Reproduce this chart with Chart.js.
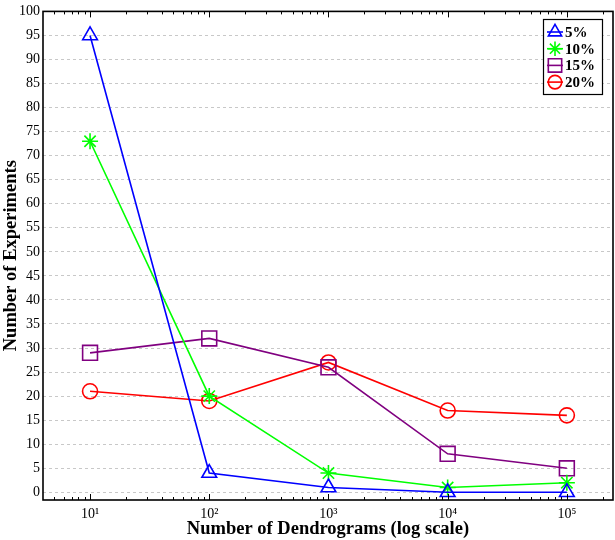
<!DOCTYPE html>
<html>
<head>
<meta charset="utf-8">
<script src="https://cdn.jsdelivr.net/npm/chart.js@4/dist/chart.umd.min.js"></script>
<style>
    html, body { margin: 0; padding: 0; background: #fff; overflow: hidden; }
    canvas { display: block; }
</style>
</head>
<body>
<canvas id="chart" width="615" height="540"></canvas>
<script>
// number of dendrograms (x) and experiment counts per threshold
const DENDROGRAMS = [10, 100, 1000, 10000, 100000];
const SERIES_5 = [95, 4, 1, 0, 0];
const SERIES_10 = [73, 20, 4, 1, 2];
const SERIES_15 = [29, 32, 26, 8, 5];
const SERIES_20 = [21, 19, 27, 17, 16];
const LABELS = ["5%", "10%", "15%", "20%"];
const Y_TICKS = [0, 5, 10, 15, 20, 25, 30, 35, 40, 45, 50, 55, 60, 65, 70, 75, 80, 85, 90, 95, 100];
const X_TICKS = [10, 100, 1000, 10000, 100000];
const SUP = {"1": "\u00b9", "2": "\u00b2", "3": "\u00b3", "4": "\u2074", "5": "\u2075"};

const FONT = "'Liberation Serif', 'DejaVu Serif', serif";
Chart.defaults.font.family = FONT;
Chart.defaults.color = "#000";

const STYLES = [
    {color: "#0000ff", point: "triangle", radius: 8.5},
    {color: "#00ff00", point: "star", radius: 8},
    {color: "#800080", point: "rect", radius: 10.5},
    {color: "#ff0000", point: "circle", radius: 7.5},
];

function toPoints(values) {
    return values.map((v, i) => ({x: DENDROGRAMS[i], y: v}));
}

let datasets = [SERIES_5, SERIES_10, SERIES_15, SERIES_20].map(function (vals, i) {
    let s = STYLES[i];
    return {
        label: LABELS[i],
        data: toPoints(vals),
        borderColor: s.color,
        backgroundColor: "rgba(0,0,0,0)",
        borderWidth: 1.6,
        pointStyle: s.point,
        pointRadius: s.radius,
        pointBorderWidth: 1.6,
        pointBorderColor: s.color,
        pointBackgroundColor: "rgba(0,0,0,0)",
        tension: 0,
        clip: false,
    };
});

function tick(ctx, a, px, len, top) {
    ctx.beginPath();
    ctx.moveTo(px, a.bottom);
    ctx.lineTo(px, a.bottom - len);
    if (top) {
        ctx.moveTo(px, a.top);
        ctx.lineTo(px, a.top + len);
    }
    ctx.stroke();
}

// frame, minor ticks and inner legend, pgfplots style
const framePlugin = {
    id: "frame",
    afterDatasetsDraw(chart) {
        let ctx = chart.ctx;
        let a = chart.chartArea;
        let xs = chart.scales.x;
        ctx.save();
        ctx.strokeStyle = "#000";
        ctx.lineWidth = 1;
        for (let d = 0; d <= 5; d++) {
            for (let m = 1; m <= 9; m++) {
                let v = m * Math.pow(10, d);
                if (v < xs.min || v > xs.max) continue;
                let px = Math.round(xs.getPixelForValue(v)) + 0.5;
                tick(ctx, a, px, m === 1 ? 6 : 3, true);
            }
        }
        ctx.lineWidth = 1.6;
        ctx.strokeRect(a.left, a.top, a.right - a.left, a.bottom - a.top);

        // legend box
        let bx = 543, by = 19, bw = 59, bh = 75;
        ctx.fillStyle = "#fff";
        ctx.fillRect(bx, by, bw, bh);
        ctx.strokeStyle = "#000";
        ctx.lineWidth = 1.2;
        ctx.strokeRect(bx + 0.5, by + 0.5, bw, bh);
        ctx.textBaseline = "middle";
        ctx.textAlign = "left";
        chart.data.datasets.forEach(function (ds, i) {
            let cy = by + 13 + i * 16.7;
            let cx = 555;
            ctx.strokeStyle = ds.borderColor;
            ctx.fillStyle = "rgba(0,0,0,0)";
            ctx.lineWidth = 1.6;
            ctx.beginPath();
            ctx.moveTo(cx - 8, cy);
            ctx.lineTo(cx + 8, cy);
            ctx.stroke();
            Chart.helpers.drawPoint(ctx, {
                pointStyle: ds.pointStyle,
                radius: ds.pointRadius * 0.9,
                borderWidth: 1.6,
                rotation: 0,
            }, cx, cy);
            ctx.fillStyle = "#000";
            ctx.font = "bold 15px " + FONT;
            ctx.fillText(ds.label, 565, cy + 1);
        });
        ctx.restore();
    }
};

new Chart(document.getElementById("chart"), {
    type: "line",
    data: {datasets: datasets},
    options: {
        animation: false,
        responsive: false,
        layout: {autoPadding: false, padding: {top: 9, right: 2, left: 0, bottom: 0}},
        plugins: {
            legend: {display: false},
            tooltip: {enabled: false},
        },
        scales: {
            x: {
                type: "logarithmic",
                min: 4.03,
                max: 243800,
                afterBuildTicks: function (scale) {
                    scale.ticks = X_TICKS.map(v => ({value: v}));
                },
                afterFit: function (scale) {
                    scale.height = 40;
                    scale.paddingLeft = 0;
                    scale.paddingRight = 0;
                },
                ticks: {
                    autoSkip: false,
                    maxRotation: 0,
                    padding: 6,
                    font: {size: 14},
                    callback: function (value) {
                        let e = Math.round(Math.log10(value));
                        return "10" + SUP[String(e)];
                    },
                },
                grid: {display: false, drawTicks: false},
                border: {display: false},
                title: {
                    display: true,
                    text: "Number of Dendrograms (log scale)",
                    font: {size: 18.5, weight: "bold"},
                    padding: {top: 2, bottom: 0},
                },
            },
            y: {
                min: -1.6,
                max: 100,
                afterBuildTicks: function (scale) {
                    scale.ticks = Y_TICKS.map(v => ({value: v}));
                },
                afterFit: function (scale) {
                    scale.width = 43;
                },
                ticks: {
                    autoSkip: false,
                    padding: 3,
                    font: {size: 14},
                },
                grid: {
                    drawTicks: false,
                    color: "#c8c8c8",
                    lineWidth: 1,
                },
                border: {display: false, dash: [3, 3]},
                title: {
                    display: true,
                    text: "Number of Experiments",
                    font: {size: 18.5, weight: "bold"},
                    padding: {top: 0, bottom: 0},
                },
            },
        },
    },
    plugins: [framePlugin],
});
</script>
</body>
</html>
